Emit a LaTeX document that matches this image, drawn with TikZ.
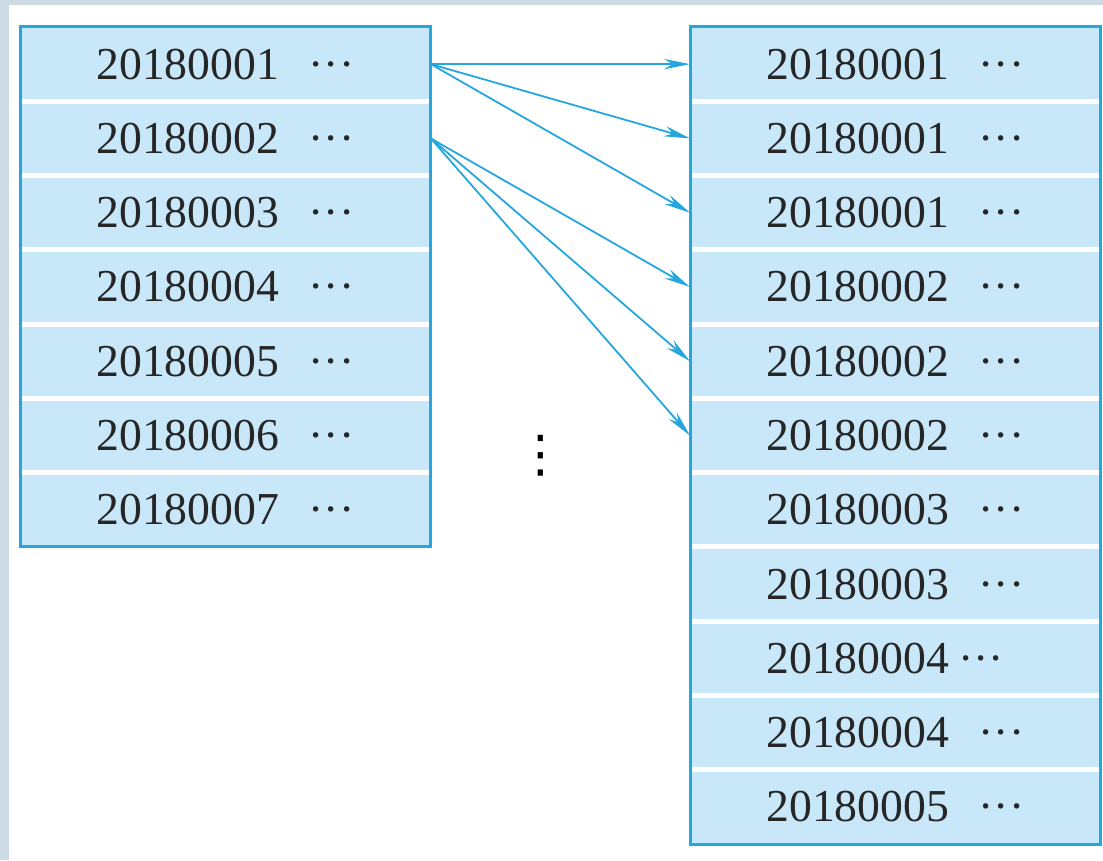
\documentclass[tikz,border=0pt]{standalone}
\usepackage{fontspec}
\setmainfont{Liberation Serif}
\newfontfamily\symfont{DejaVu Sans}
\usetikzlibrary{positioning}
\usetikzlibrary{arrows.meta}

\definecolor{rowblue}{RGB}{200,231,248}
\definecolor{edgeblue}{RGB}{38,166,222}
\definecolor{pagegray}{RGB}{204,219,228}
\newcommand{\rec}[1]{#1\hspace{0.65em}\textperiodcentered\textperiodcentered\textperiodcentered}

\tikzset{
  rowbox/.style={rectangle,fill=rowblue,draw=none,inner sep=0pt,outer sep=0pt,
    minimum width=10.27cm,minimum height=1.857cm,text=black!85,
    font=\fontsize{32.5}{39}\selectfont},
  sep/.style={white,line width=0.125cm},
  frame/.style={edgeblue,line width=0.075cm},
  link/.style={edgeblue,line width=0.045cm,-{Stealth[length=0.65cm,width=0.26cm]}}
}

\begin{document}
\begin{tikzpicture}
\useasboundingbox (0,0) rectangle (27.575,21.5);
\fill[pagegray] (0,0) rectangle (27.575,21.5);
\fill[white] (0.225,0) rectangle (27.575,21.375);

% left table
\node[rowbox,anchor=north west] (L1) at (0.5,20.825) {\rec{20180001}};
\foreach \i/\t in {2/20180002,3/20180003,4/20180004,5/20180005,6/20180006,7/20180007}{
  \pgfmathtruncatemacro\j{\i-1}
  \node[rowbox,below=0pt of L\j] (L\i) {\rec{\t}};
}
\foreach \i in {1,...,6}
  \draw[sep] (L\i.south west) -- (L\i.south east);
\draw[frame] (L1.north west) rectangle (L7.south east);

% right table
\node[rowbox,anchor=north west] (R1) at (17.25,20.825) {\rec{20180001}};
\foreach \i/\t in {2/\rec{20180001},3/\rec{20180001},4/\rec{20180002},5/\rec{20180002},
  6/\rec{20180002},7/\rec{20180003},8/\rec{20180003},
  9/{20180004\hspace{0.2em}\textperiodcentered\textperiodcentered\textperiodcentered\kern0.45em\mbox{}},
  10/\rec{20180004},11/\rec{20180005}}{
  \pgfmathtruncatemacro\j{\i-1}
  \node[rowbox,below=0pt of R\j] (R\i) {\t};
}
\foreach \i in {1,...,10}
  \draw[sep] (R\i.south west) -- (R\i.south east);
\draw[frame] (R1.north west) rectangle (R11.south east);

% links
\foreach \k in {1,2,3}
  \draw[link] (L1.east) -- (R\k.west);
\foreach \k in {4,5,6}
  \draw[link] (L2.east) -- (R\k.west);

\node[font=\symfont\fontsize{36}{40}\selectfont,inner sep=0pt] (vd) at (13.525,10.1) {⋮};

\end{tikzpicture}
\end{document}
